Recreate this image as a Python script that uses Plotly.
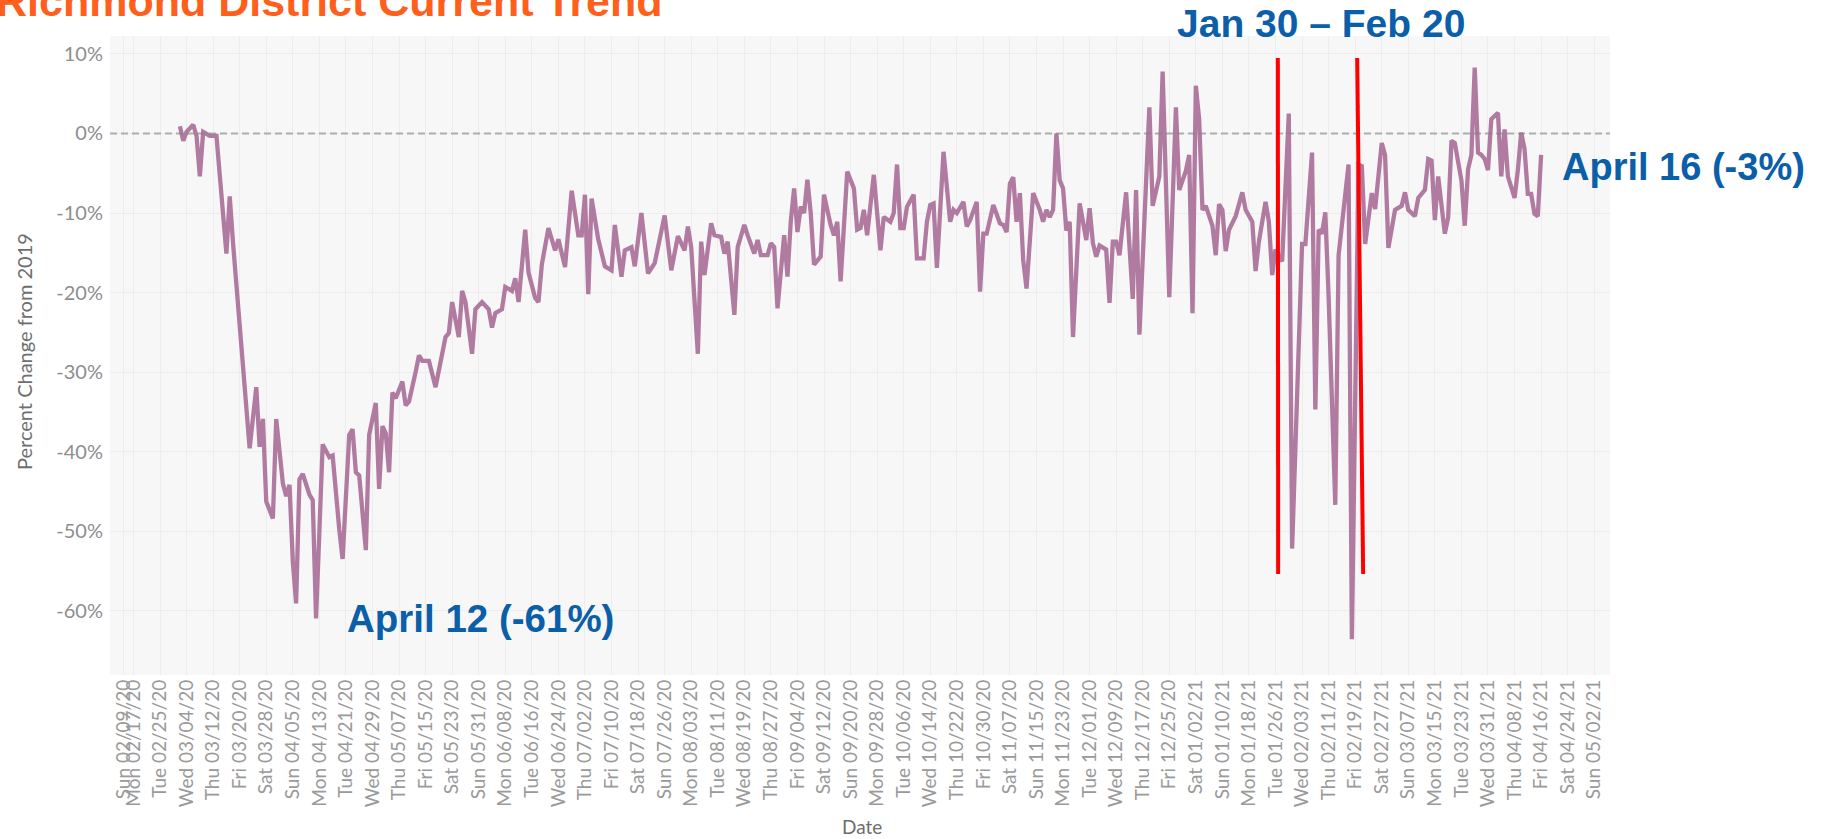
import pandas as pd
import plotly.graph_objects as go

# ---- data: day-of-month and % change from 2019 ----
mar20_day = [2, 3, 4, 6, 7, 8, 9, 11, 13, 16, 17, 18, 23, 25, 26, 27, 28, 30, 31]
mar20_val = [0.9, -0.9, 0.2, 1.1, -0.3, -5.4, 0.2, -0.3, -0.3, -15.1, -7.9, -13.8, -39.6, -31.9, -39.4, -35.9, -46.3, -48.4, -35.9]

apr20_day = [2, 3, 4, 5, 6, 7, 8, 10, 11, 12, 14, 16, 17, 19, 20, 22, 23, 24, 25, 27, 28, 30]
apr20_val = [-44, -45.6, -44.2, -53.8, -59.1, -43.5, -42.8, -45.4, -46.1, -61, -39.1, -40.7, -40.5, -49.8, -53.5, -37.9, -37.2, -42.6, -43, -52.4, -37.9, -33.9]

may20_day = [1, 2, 3, 4, 5, 6, 8, 9, 10, 12, 13, 14, 16, 18, 20, 21, 22, 23, 25, 26, 27, 29, 30]
may20_val = [-44.7, -36.8, -37.7, -42.6, -32.6, -33.3, -31.2, -34.2, -33.7, -30, -27.9, -28.6, -28.6, -31.9, -27.9, -25.6, -25.1, -21.2, -25.6, -19.8, -21.2, -27.7, -22.1]

jun20_day = [1, 3, 4, 5, 7, 8, 10, 11, 12, 14, 15, 17, 18, 19, 21, 23, 24, 26, 28, 30]
jun20_val = [-21.2, -22.1, -24.4, -22.6, -22.1, -19.3, -19.8, -18.2, -21.2, -12.1, -17.5, -20.7, -21.2, -16.5, -11.9, -14.7, -13.3, -16.8, -7.2, -12.8]

jul20_day = [1, 2, 3, 4, 6, 8, 10, 11, 13, 14, 16, 17, 19, 21, 23, 24, 26, 28, 29, 30]
jul20_val = [-12.8, -7.7, -20.2, -8.2, -13.3, -16.7, -17.2, -11.5, -18, -14.7, -14.3, -16.7, -10.0, -17.6, -16.3, -14.3, -10.3, -17.2, -15.1, -12.9]

aug20_day = [1, 2, 3, 5, 6, 7, 9, 10, 12, 13, 14, 16, 17, 19, 20, 22, 23, 24, 26, 27, 28, 29, 31]
aug20_val = [-14.7, -11.7, -14.3, -27.7, -13.6, -17.8, -11.3, -12.8, -13.0, -15.1, -13.6, -22.8, -14.3, -11.5, -12.8, -15.1, -13.4, -15.3, -15.3, -13.8, -14.3, -22, -12.8]

sep20_day = [1, 2, 3, 4, 5, 6, 7, 8, 9, 11, 12, 14, 15, 16, 17, 19, 21, 22, 23, 24, 25, 27, 29, 30]
sep20_val = [-18, -11, -6.9, -12.4, -9.2, -10, -5.8, -10, -16.5, -15.5, -7.7, -11.5, -12.8, -11.1, -18.6, -4.8, -6.9, -12.1, -11.9, -9.6, -12.8, -5.2, -14.7, -10.5]

oct20_day = [2, 3, 4, 5, 6, 7, 9, 10, 12, 13, 14, 15, 16, 18, 19, 20, 21, 22, 24, 25, 26, 28, 29, 30, 31]
oct20_val = [-11.1, -10, -3.9, -11.9, -11.9, -9.2, -7.7, -15.7, -15.7, -11.1, -9.0, -8.8, -16.9, -2.3, -7.5, -11.1, -9.6, -10, -8.6, -11.7, -10.9, -8.6, -19.9, -12.6, -12.6]

nov20_day = [2, 4, 5, 6, 7, 8, 9, 10, 11, 12, 14, 16, 17, 18, 19, 20, 21, 22, 23, 24, 25, 26, 28, 30]
nov20_val = [-9.0, -11.3, -11.5, -12.4, -6.3, -5.5, -11.1, -7.5, -15.9, -19.5, -7.5, -9.6, -11.1, -9.6, -10.5, -9.6, 0, -5.9, -6.9, -12.2, -11.1, -25.6, -8.8, -13.4]

dec20_day = [1, 2, 3, 4, 6, 7, 8, 9, 10, 12, 14, 15, 16, 19, 20, 22, 23, 25, 27, 28, 30, 31]
dec20_val = [-9.4, -13.8, -15.5, -14.1, -14.6, -21.3, -13.6, -13.6, -15.3, -7.4, -20.8, -7.1, -25.3, 3.3, -9.1, -5.4, 7.8, -20.6, 3.3, -7.1, -4.7, -2.7]

jan21_day = [1, 2, 3, 4, 5, 7, 8, 9, 10, 11, 12, 14, 16, 17, 19, 20, 21, 23, 24, 25, 26, 28, 30, 31]
jan21_val = [-22.6, 6.0, 1.8, -9.6, -9.1, -11.6, -15.3, -8.9, -9.6, -14.8, -12.1, -10.4, -7.4, -9.6, -11.1, -17.3, -13.6, -8.6, -11.1, -17.8, -14.6, -16.1, 2.5, -52.2]

feb21_day = [3, 4, 6, 7, 8, 9, 10, 11, 13, 14, 17, 18, 20, 21, 22, 24, 25, 27, 28]
feb21_val = [-13.9, -13.9, -2.4, -34.7, -12.1, -12.6, -9.9, -20.6, -46.7, -15.3, -3.9, -63.6, -3.9, -4.1, -13.9, -7.5, -9.5, -1.2, -2.7]

mar21_day = [1, 2, 3, 5, 6, 7, 9, 10, 12, 13, 14, 15, 16, 18, 19, 20, 21, 23, 24, 25, 26, 27, 28, 29, 30, 31]
mar21_val = [-14.4, -11.6, -9.6, -9.1, -7.4, -9.6, -10.4, -8.1, -7.1, -3.2, -3.4, -10.9, -5.4, -12.6, -10.6, -0.9, -1.2, -5.9, -11.6, -4.5, -2.7, 8.3, -2.4, -2.7, -3.2, -4.6]

apr21_day = [1, 3, 4, 5, 6, 8, 9, 10, 11, 12, 13, 14, 15, 16]
apr21_val = [1.8, 2.6, -5.4, 0.5, -5.4, -8.1, -4.6, 0.1, -1.9, -7.6, -7.6, -10.1, -10.4, -2.7]

# axis ticks
x_first_label = "Sun 02/09/20"
x_first_label_pos = "2020-02-14"
x_tick_dates = list(pd.date_range("2020-02-17", "2021-05-02", freq="8D"))
y_tick_vals = [10, 0, -10, -20, -30, -40, -50, -60]
y_tick_text = ["10%", "0%", "-10%", "-20%", "-30%", "-40%", "-50%", "-60%"]

# annotation lines (hand-drawn red markers)
red1_x = ["2021-01-26 16:48", "2021-01-26 19:12"]
red2_x = ["2021-02-19 14:24", "2021-02-21 09:36"]
red_y = [9.5, -55.4]

months = [
    (2020, 3, mar20_day, mar20_val), (2020, 4, apr20_day, apr20_val),
    (2020, 5, may20_day, may20_val), (2020, 6, jun20_day, jun20_val),
    (2020, 7, jul20_day, jul20_val), (2020, 8, aug20_day, aug20_val),
    (2020, 9, sep20_day, sep20_val), (2020, 10, oct20_day, oct20_val),
    (2020, 11, nov20_day, nov20_val), (2020, 12, dec20_day, dec20_val),
    (2021, 1, jan21_day, jan21_val), (2021, 2, feb21_day, feb21_val),
    (2021, 3, mar21_day, mar21_val), (2021, 4, apr21_day, apr21_val),
]
dates, values = [], []
for yr, mo, ds, vs in months:
    assert len(ds) == len(vs), (yr, mo)
    for d, v in zip(ds, vs):
        dates.append(pd.Timestamp(yr, mo, d))
        values.append(v)

tickvals = [pd.Timestamp(x_first_label_pos)] + x_tick_dates
ticktext = [x_first_label] + [d.strftime("%a %m/%d/%y") for d in x_tick_dates]

W, H = 1830, 839
L, R, T, B = 110, 220, 36, 164
PW, PH = W - L - R, H - T - B


def px(x):
    return (x - L) / PW


def py(y):
    return (H - B - y) / PH


fig = go.Figure()
fig.add_trace(go.Scatter(
    x=dates, y=values, mode="lines",
    line=dict(color="#b07aa1", width=4.3),
    hoverinfo="x+y",
))

fig.update_layout(
    width=W, height=H,
    margin=dict(l=L, r=R, t=T, b=B, autoexpand=False),
    paper_bgcolor="white", plot_bgcolor="#f7f7f7",
    showlegend=False,
    font=dict(family="Lato, 'Open Sans', sans-serif", color="#8e8e8e"),
)
fig.update_xaxes(
    type="date", range=["2020-02-09 22:30", "2021-05-06 18:00"],
    tickmode="array", tickvals=tickvals, ticktext=ticktext,
    tickangle=-90, tickfont=dict(size=19, color="#9a9a9a"),
    showgrid=True, gridcolor="#ededed", gridwidth=1,
    zeroline=False, showline=False, ticks="", automargin=False,
)
fig.update_yaxes(
    range=[-68.1, 12.26], tickmode="array",
    tickvals=y_tick_vals, ticktext=y_tick_text,
    tickfont=dict(size=20, color="#8e8e8e"), ticklabelstandoff=6,
    showgrid=True, gridcolor="#ededed", gridwidth=1,
    zeroline=False, showline=False, ticks="", automargin=False,
)

# dashed zero reference line
fig.add_shape(type="line", xref="paper", yref="y", x0=0, x1=1, y0=0, y1=0,
              line=dict(color="rgba(130,130,130,0.6)", width=2, dash="7px,4px"),
              layer="above")
# red markers
for xs in (red1_x, red2_x):
    fig.add_shape(type="line", xref="x", yref="y", x0=xs[0], x1=xs[1],
                  y0=red_y[0], y1=red_y[1],
                  line=dict(color="#ff0000", width=4), layer="above")

blue = "#0b5ea8"
bold = "'Liberation Sans', Arial, sans-serif"
ann = [
    dict(text="<b>Richmond District Current Trend</b>", x=px(-6), y=py(0.6),
         xanchor="left", yanchor="middle", font=dict(family=bold, size=43, color="#fe5f1c")),
    dict(text="<b>Jan 30 – Feb 20</b>", x=px(1321), y=py(23.7),
         xanchor="center", yanchor="middle", font=dict(family=bold, size=39, color=blue)),
    dict(text="<b>April 16 (-3%)</b>", x=px(1683), y=py(167.5),
         xanchor="center", yanchor="middle", font=dict(family=bold, size=38, color=blue)),
    dict(text="<b>April 12 (-61%)</b>", x=px(480), y=py(618),
         xanchor="center", yanchor="middle", font=dict(family=bold, size=38.5, color=blue)),
    dict(text="Percent Change from 2019", x=px(24), y=py(352), textangle=-90,
         xanchor="center", yanchor="middle", font=dict(size=20, color="#6e6e6e")),
    dict(text="Date", x=px(862), y=py(826),
         xanchor="center", yanchor="middle", font=dict(size=19, color="#6e6e6e")),
]
for a in ann:
    fig.add_annotation(xref="paper", yref="paper", showarrow=False, **a)

fig.write_html("out.html", config={"displayModeBar": False},
               post_script="document.body.style.margin='0';document.body.style.overflow='hidden';")
